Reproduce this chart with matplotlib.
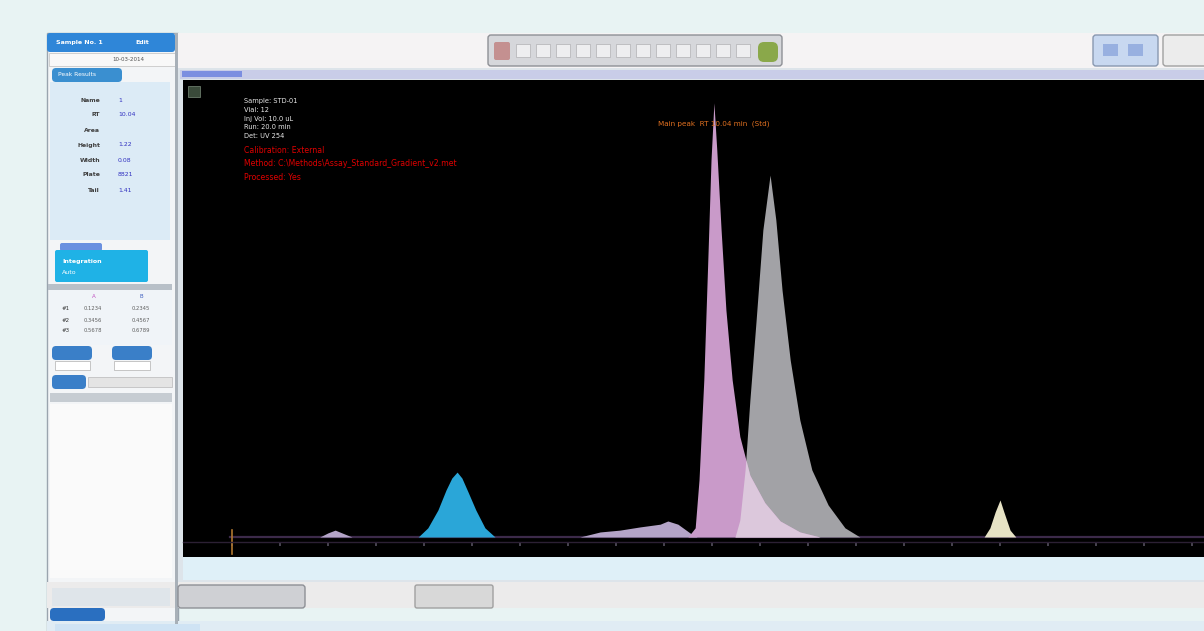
import numpy as np
import matplotlib
matplotlib.use("Agg")
import matplotlib.pyplot as plt
from matplotlib.patches import FancyBboxPatch, Rectangle

# ---------------- chromatogram data (time in min, signal in % full scale) ----------------
time_ticks = list(range(0, 21))
injection_time = 0.0
trace_time = [-0.04, 20.3]
trace_level = [0.0, 0.0]

minor1_time = [1.83, 2.00, 2.15, 2.29, 2.50]
minor1_signal = [0.0, 0.9, 1.5, 0.9, 0.0]

blue_time = [3.88, 4.08, 4.29, 4.46, 4.58, 4.69, 4.79, 4.92, 5.08, 5.27, 5.48]
blue_signal = [0.0, 2.0, 5.9, 10.3, 12.9, 14.2, 12.9, 9.8, 5.9, 2.0, 0.0]

minor2_time = [7.25, 7.67, 8.08, 8.50, 8.92, 9.08, 9.29, 9.54, 9.69]
minor2_signal = [0.0, 1.1, 1.5, 2.2, 2.8, 3.5, 2.8, 0.9, 0.0]

pink_time = [9.50, 9.65, 9.73, 9.83, 9.92, 9.98, 10.04, 10.10, 10.19, 10.29,
             10.42, 10.58, 10.79, 11.10, 11.42, 11.83, 12.25]
pink_signal = [0.0, 2.0, 12.5, 34.4, 62.8, 82.5, 95.0, 84.7, 67.2, 49.7,
               34.4, 22.0, 13.5, 7.5, 3.5, 1.1, 0.0]

gray_time = [10.48, 10.58, 10.69, 10.79, 10.92, 11.06, 11.21, 11.33, 11.46,
             11.63, 11.83, 12.08, 12.42, 12.77, 13.08]
gray_signal = [0.0, 3.7, 14.7, 30.0, 47.5, 67.2, 79.2, 69.4, 54.0,
               38.7, 25.6, 14.7, 7.0, 2.0, 0.0]

cream_time = [15.67, 15.79, 15.90, 16.00, 16.08, 16.21, 16.33]
cream_signal = [0.0, 2.0, 5.5, 8.1, 5.5, 1.5, 0.0]

info_lines = ["Sample: STD-01", "Vial: 12", "Inj Vol: 10.0 uL", "Run: 20.0 min", "Det: UV 254"]
method_lines = ["Calibration: External",
                "Method: C:\\Methods\\Assay_Standard_Gradient_v2.met",
                "Processed: Yes"]
peak_label = "Main peak  RT 10.04 min  (Std)"

W, H = 1204, 631
fig = plt.figure(figsize=(W / 100, H / 100), dpi=100, facecolor="#e8f3f3")

# ---------------- application frame (pixel coordinates) ----------------
bg = fig.add_axes([0, 0, 1, 1], zorder=0)
bg.set_xlim(0, W)
bg.set_ylim(H, 0)
bg.axis("off")


def box(x0, y0, x1, y1, fc, ec="none", lw=0.8, r=0.0, z=1):
    if r > 0:
        p = FancyBboxPatch((x0, y0), x1 - x0, y1 - y0,
                           boxstyle=f"round,pad=0,rounding_size={r}",
                           fc=fc, ec=ec, lw=lw, zorder=z)
    else:
        p = Rectangle((x0, y0), x1 - x0, y1 - y0, fc=fc, ec=ec, lw=lw, zorder=z)
    bg.add_patch(p)


def ptext(x, y, s, color="#404040", size=4.5, ha="left", weight="normal", z=5):
    bg.text(x, y, s, color=color, fontsize=size, ha=ha, va="center",
            weight=weight, zorder=z)


# left side panel
box(47, 33, 178, 631, "#f3f5f7", "#9aa4ae", 1.0)
box(47, 33, 175, 52, "#2f86d8", r=3, z=2)
ptext(56, 42.5, "Sample No. 1", "white", 4.5, weight="bold")
ptext(135, 42.5, "Edit", "white", 4.5, weight="bold")
box(49, 53, 175, 66, "#f8f8f8", "#c8c8c8", 0.6, z=2)
ptext(112, 59.5, "10-03-2014", "#505050", 4)
box(52, 68, 122, 82, "#3a8fd0", r=4, z=2)
ptext(58, 75, "Peak Results", "white", 4.3)
box(50, 82, 170, 240, "#dcebf6", z=2)
rows = [("Name", "1"), ("RT", "10.04"), ("Area", ""), ("Height", "1.22"),
        ("Width", "0.08"), ("Plate", "8821"), ("Tail", "1.41")]
for i, (lab, val) in enumerate(rows):
    y = 100 + i * 15
    ptext(100, y, lab, "#404040", 4.4, ha="right", weight="bold")
    if val:
        ptext(118, y, val, "#3030c0", 4.4)
box(60, 243, 102, 251, "#6a90e0", r=2, z=2)
box(55, 250, 148, 282, "#1fb2e6", r=2, z=2)
ptext(62, 262, "Integration", "white", 4.5, weight="bold")
ptext(62, 273, "Auto", "white", 4.5)
box(48, 284, 172, 290, "#b8c0c8", z=2)
box(50, 290, 172, 345, "#f0f4f8", z=2)
ptext(92, 297, "A", "#c050c0", 4)
ptext(140, 297, "B", "#4060c0", 4)
for i, (a, b) in enumerate([("0.1234", "0.2345"), ("0.3456", "0.4567"), ("0.5678", "0.6789")]):
    y = 309 + i * 11
    ptext(62, y, "#" + str(i + 1), "#303030", 4)
    ptext(84, y, a, "#606060", 3.8)
    ptext(132, y, b, "#606060", 3.8)
box(52, 346, 92, 360, "#3a7fc8", r=4, z=2)
box(112, 346, 152, 360, "#3a7fc8", r=4, z=2)
box(55, 361, 90, 370, "white", "#b0b0b0", 0.5, z=2)
box(114, 361, 150, 370, "white", "#b0b0b0", 0.5, z=2)
box(52, 375, 86, 389, "#3a7fc8", r=4, z=2)
box(88, 377, 172, 387, "#e4e4e4", "#b8b8b8", 0.5, z=2)
box(50, 393, 172, 402, "#c6ccd2", z=2)
box(50, 404, 172, 578, "#fafafa", z=2)
box(175, 33, 178, 631, "#a8b0b8", z=2)

# top toolbar
box(178, 33, W, 68, "#f5f3f4", z=1)
box(488, 35, 782, 66, "#d6d7db", "#8e9096", 1.0, r=3, z=2)
box(494, 42, 510, 60, "#c49090", r=2, z=3)
for k in range(12):
    cx = 516 + k * 20
    box(cx, 44, cx + 14, 57, "#eeeef0", "#b0b0b4", 0.5, z=3)
box(758, 42, 778, 62, "#8aa84a", r=6, z=3)
box(1093, 35, 1158, 66, "#c8d8f0", "#8898b0", 1.0, r=3, z=2)
box(1103, 44, 1118, 56, "#98b0e0", z=3)
box(1128, 44, 1143, 56, "#98b0e0", z=3)
box(1163, 35, W + 5, 66, "#ececec", "#a0a0a0", 1.0, r=3, z=2)

# chart frame and strips
box(178, 68, W, 585, "#dde4ea", z=1)
box(180, 70, W, 79, "#c9cde8", z=2)
box(182, 71, 242, 77, "#7c8ee0", z=3)
box(183, 557, W, 580, "#dff0f8", z=2)

# bottom toolbars
box(47, 582, W, 608, "#ecebeb", z=1)
box(52, 588, 170, 606, "#dfe5ea", z=2)
box(178, 585, 305, 608, "#cfd0d4", "#8e9096", 1.0, r=3, z=2)
box(415, 585, 493, 608, "#d8d8d8", "#a0a0a0", 1.0, r=2, z=2)
box(50, 608, 105, 621, "#2a6fc0", r=4, z=2)
box(47, 621, W, 631, "#e0ecf4", z=1)
box(55, 624, 200, 631, "#cfe3f4", z=2)

# ---------------- chromatogram axes ----------------
x0_px, x1_px, y_top_px, y_bot_px = 183, W, 80, 557
ax = fig.add_axes([x0_px / W, 1 - y_bot_px / H,
                   (x1_px - x0_px) / W, (y_bot_px - y_top_px) / H], zorder=3)
ax.set_facecolor("black")
ax.set_xlim(-1.02, 20.25)
ax.set_ylim(-4.38, 100.0)
for side in ("top", "left", "right"):
    ax.spines[side].set_visible(False)
ax.spines["bottom"].set_position(("data", -1.0))
ax.spines["bottom"].set_color("#2c2034")
ax.spines["bottom"].set_linewidth(1.0)
ax.set_xticks(time_ticks)
ax.set_yticks([])
ax.tick_params(axis="x", direction="out", length=3, width=1.2,
               color="#55505e", labelbottom=False)

# small view icon in the plot corner
ax.add_patch(Rectangle((0.005, 0.965), 0.012, 0.022, transform=ax.transAxes,
                       fc="#3a4a3a", ec="#6a7a6a", lw=0.6))

# signal baseline
ax.plot(trace_time, trace_level, color="#3c2a4a", lw=1.6, zorder=1)
ax.plot([injection_time, injection_time], [-3.8, 1.6], color="#b07830", lw=1.2, zorder=2)

ax.fill_between(minor1_time, minor1_signal, color="#b4a4c8", lw=0, zorder=2)
ax.fill_between(minor2_time, minor2_signal, color="#b4a4c8", lw=0, zorder=2)
ax.fill_between(blue_time, blue_signal, color="#2aa6d8", lw=0, zorder=3)
ax.fill_between(cream_time, cream_signal, color="#e6e2c4", lw=0, zorder=3)

ax.fill_between(gray_time, gray_signal, color="#a2a2a6", lw=0, zorder=3)
ax.fill_between(pink_time, pink_signal, color="#c99ac9", lw=0, zorder=4)
# co-eluting region of the two main peaks
t = np.linspace(gray_time[0], pink_time[-1], 400)
overlap = np.minimum(np.interp(t, pink_time, pink_signal),
                     np.interp(t, gray_time, gray_signal))
ax.fill_between(t, overlap, color="#dcc8dc", lw=0, zorder=5)

# annotations
for i, s in enumerate(info_lines):
    ax.text(0.06, 0.955 - i * 0.018, s, transform=ax.transAxes, color="#e8e8e8",
            fontsize=4.8, va="center")
for i, s in enumerate(method_lines):
    ax.text(0.06, 0.852 - i * 0.028, s, transform=ax.transAxes, color="#e00000",
            fontsize=5.6, va="center")
apex = int(np.argmax(pink_signal))
ax.text(pink_time[apex], 90.4, peak_label, color="#e07020", fontsize=5.2,
        ha="center", va="center", zorder=6)

fig.savefig("out.png", dpi=100, facecolor=fig.get_facecolor())
